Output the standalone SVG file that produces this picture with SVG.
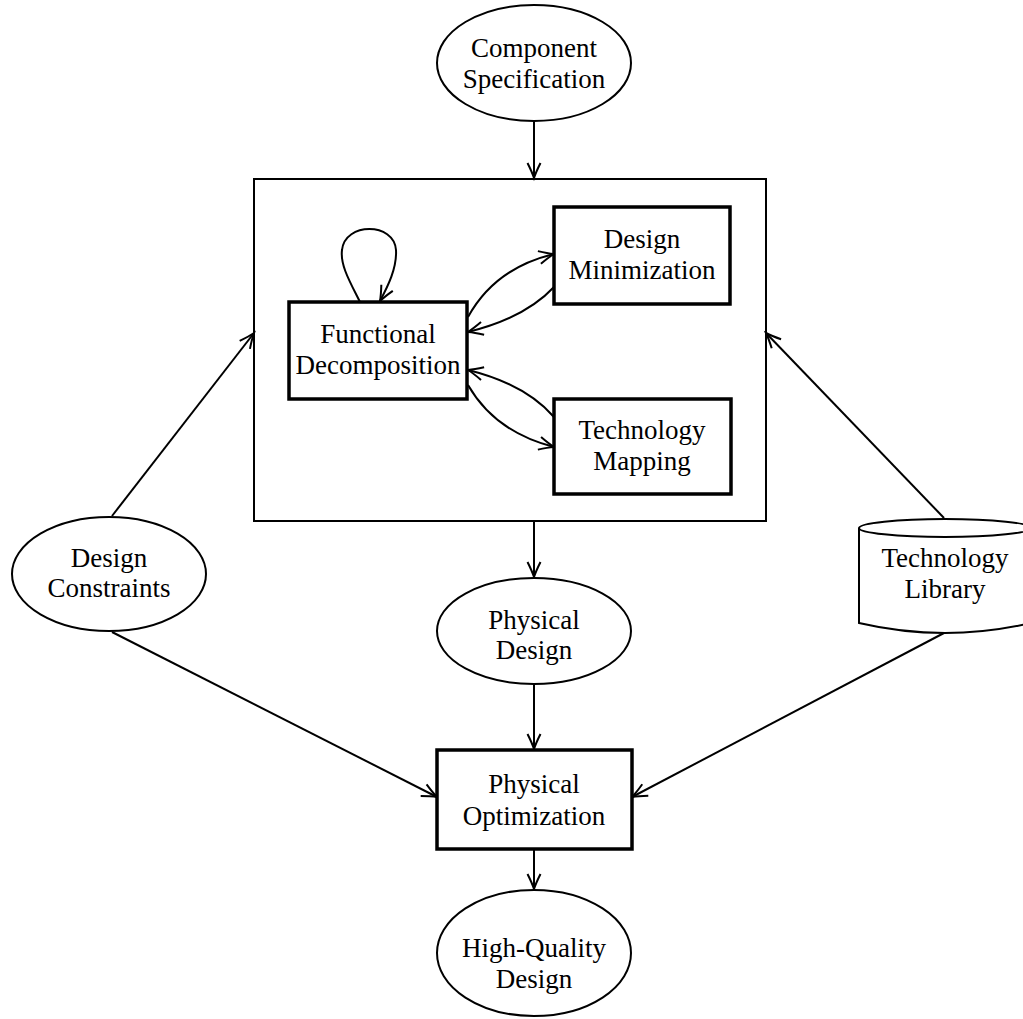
<svg xmlns="http://www.w3.org/2000/svg" width="1023" height="1019" viewBox="0 0 1023 1019">
<defs>
<marker id="arr" markerUnits="userSpaceOnUse" markerWidth="20" markerHeight="20" refX="0" refY="0" viewBox="-16 -10 20 20" orient="auto" overflow="visible">
<path d="M-15,-6.5 Q-6,-2 0,0 Q-6,2 -15,6.5" fill="none" stroke="#000" stroke-width="2"/>
</marker>
<style>
text{font-family:"Liberation Serif","DejaVu Serif",serif;font-size:27px;fill:#000;text-anchor:middle}
.shape{fill:#fff;stroke:#000;stroke-width:2}
.frame{fill:none;stroke:#000;stroke-width:2}
.thick{fill:#fff;stroke:#000;stroke-width:3.5}
.con{fill:none;stroke:#000;stroke-width:2;marker-end:url(#arr)}
</style>
</defs>
<rect width="1023" height="1019" fill="#fff"/>
<g id="outer-box"><rect x="254" y="179" width="512" height="342" class="frame"/></g>
<g id="connectors">
<line class="con" x1="534" y1="121" x2="534" y2="178"/>
<line class="con" x1="534" y1="521" x2="534" y2="577"/>
<line class="con" x1="534" y1="685" x2="534" y2="749"/>
<line class="con" x1="534" y1="850" x2="534" y2="889"/>
<line class="con" x1="112" y1="516" x2="254" y2="333"/>
<line class="con" x1="944" y1="518" x2="766" y2="333"/>
<line class="con" x1="112" y1="632" x2="437" y2="797"/>
<line class="con" x1="944" y1="633" x2="632" y2="797"/>
<path class="con" d="M360,302 C350,282 340,265 342,250 C345,222 394,222 396,250 C397,268 388,286 380,301"/>
<path class="con" d="M468,317 Q495,268 554,254"/>
<path class="con" d="M554,287 Q525,318 468,332"/>
<path class="con" d="M554,417 Q525,384 468,370"/>
<path class="con" d="M468,385 Q495,432 554,447"/>
</g>
<g id="component-specification">
<ellipse cx="534" cy="63" rx="97" ry="58" class="shape"/>
<text x="534" y="57">Component</text><text x="534" y="88">Specification</text>
</g>
<g id="functional-decomposition">
<rect x="289" y="302" width="178" height="97" class="thick"/>
<text x="378" y="343">Functional</text><text x="378" y="374">Decomposition</text>
</g>
<g id="design-minimization">
<rect x="554" y="207" width="176" height="97" class="thick"/>
<text x="642" y="248">Design</text><text x="642" y="279">Minimization</text>
</g>
<g id="technology-mapping">
<rect x="554" y="399" width="177" height="95" class="thick"/>
<text x="642" y="439">Technology</text><text x="642" y="470">Mapping</text>
</g>
<g id="design-constraints">
<ellipse cx="109" cy="574" rx="97" ry="57" class="shape"/>
<text x="109" y="567">Design</text><text x="109" y="597">Constraints</text>
</g>
<g id="technology-library">
<path d="M859,528 L859,623 Q945,643 1031,623 L1031,528" class="shape"/>
<ellipse cx="945" cy="528" rx="86" ry="9" class="shape"/>
<text x="945" y="567">Technology</text><text x="945" y="598">Library</text>
</g>
<g id="physical-design">
<ellipse cx="534" cy="631" rx="97" ry="53" class="shape"/>
<text x="534" y="629">Physical</text><text x="534" y="659">Design</text>
</g>
<g id="physical-optimization">
<rect x="437" y="750" width="195" height="99" class="thick"/>
<text x="534" y="793">Physical</text><text x="534" y="825">Optimization</text>
</g>
<g id="high-quality-design">
<ellipse cx="534" cy="953" rx="97" ry="63" class="shape"/>
<text x="534" y="957">High-Quality</text><text x="534" y="988">Design</text>
</g>
</svg>
